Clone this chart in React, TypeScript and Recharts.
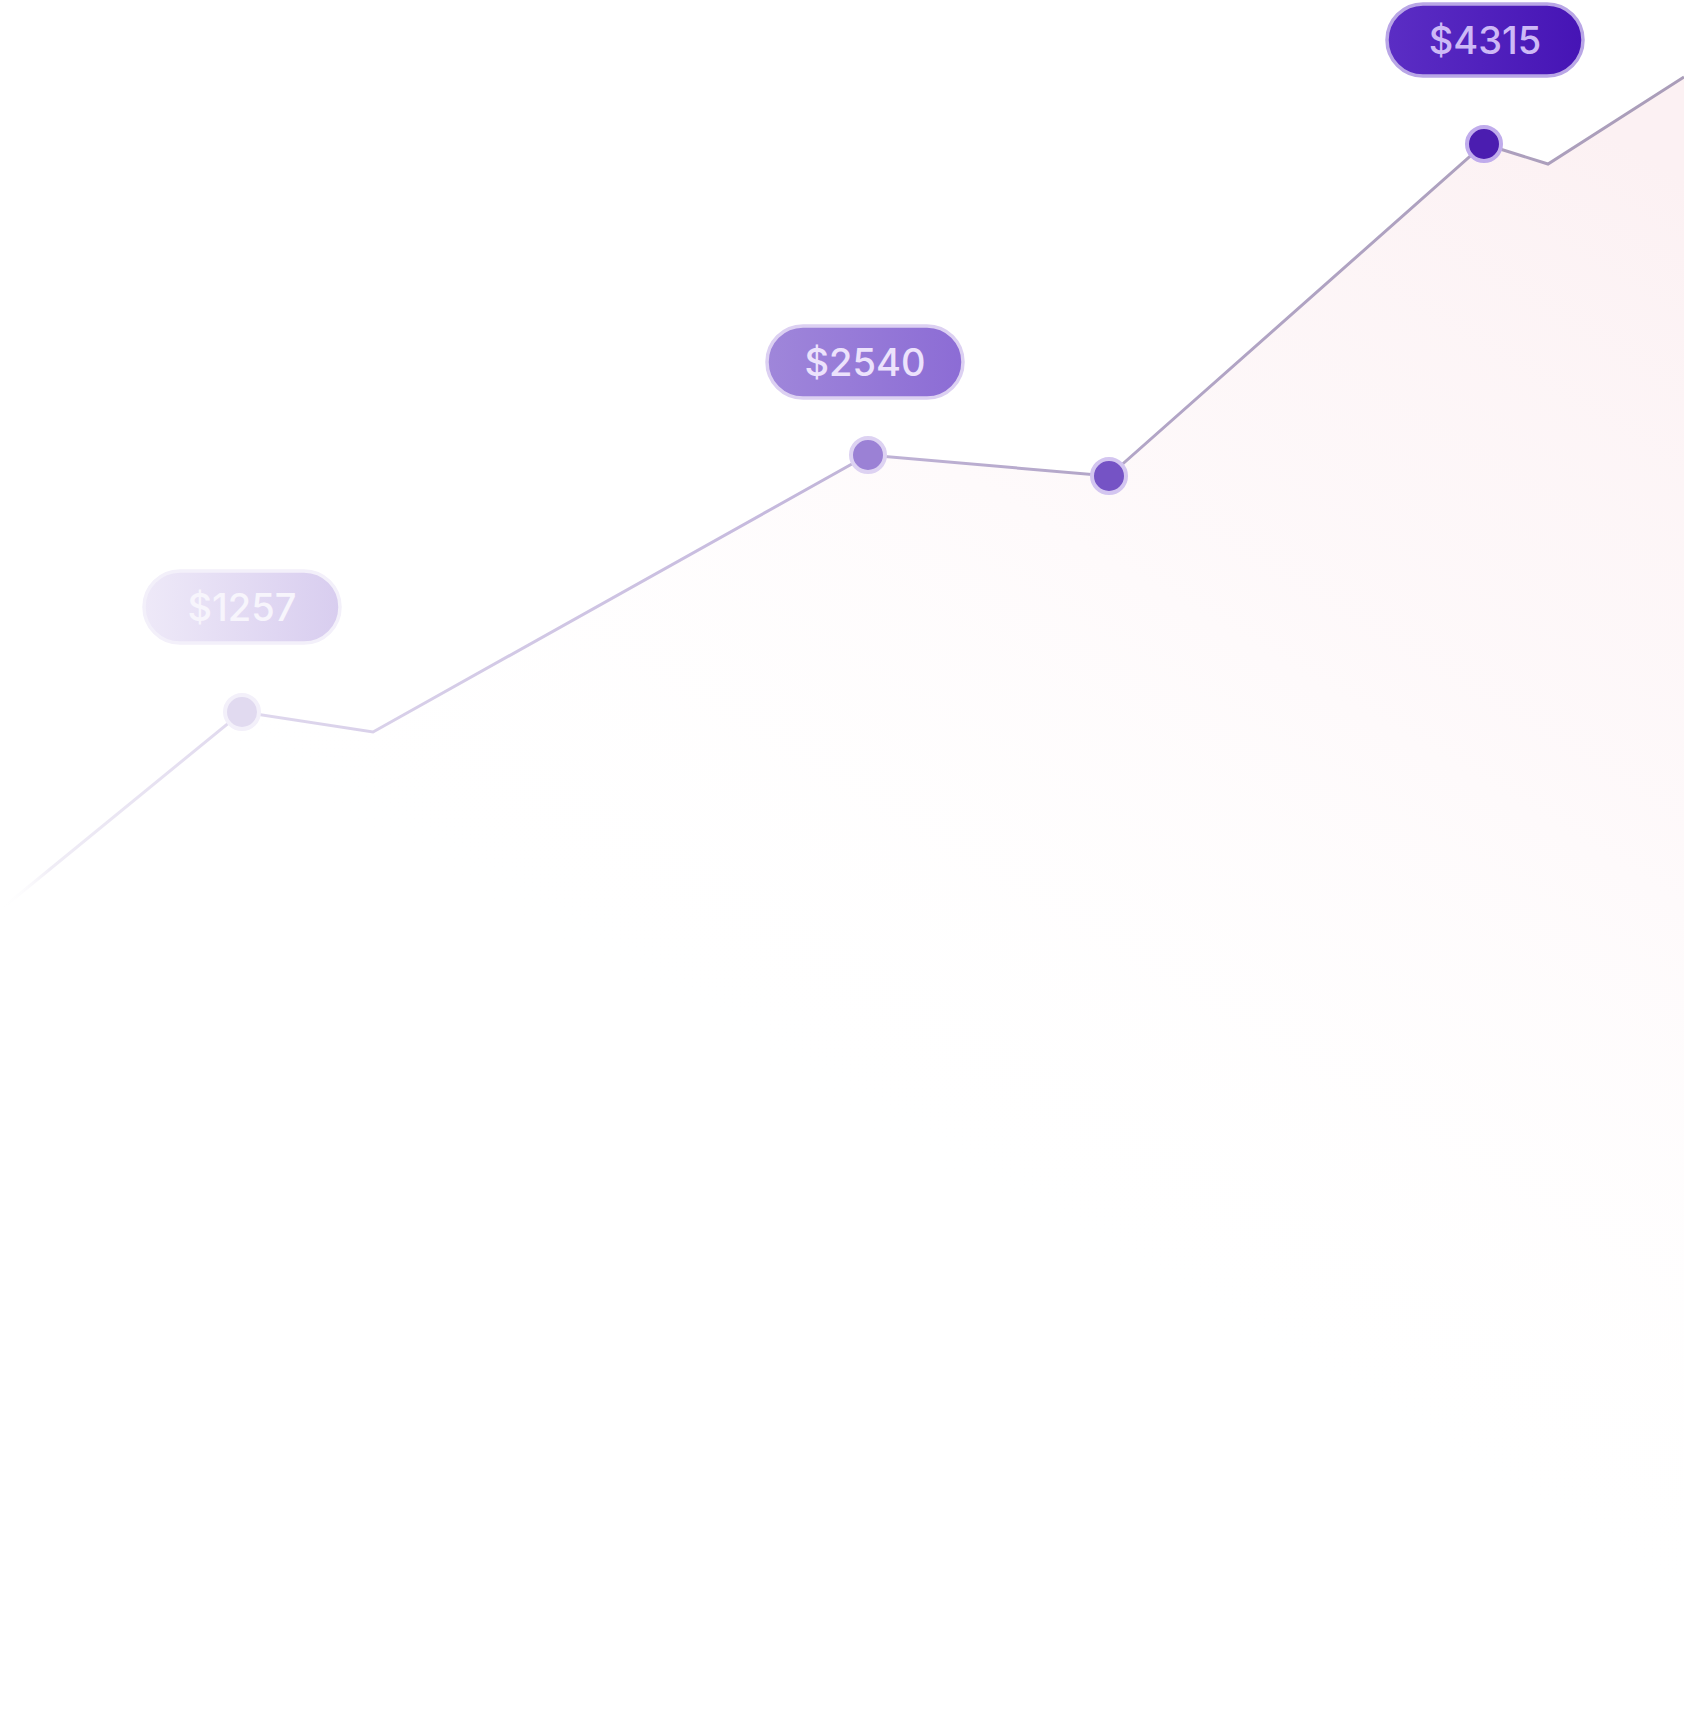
import React from 'react'
import { AreaChart, Area, XAxis, YAxis, LabelList } from 'recharts'

// horizontal position of each vertex and its height above the bottom edge
const positions = [0, 242, 373, 868, 1109, 1484, 1548, 1684]
const heights = [805, 1003, 983, 1260, 1239, 1571, 1551, 1638]
// price tags shown above some of the vertices
const tags = [null, '$1257', null, '$2540', null, '$4315', null, null]
// vertices that carry a dot
const marked = [false, true, false, true, true, true, false, false]

const W = 1684
const H = 1715

const rows = positions.map((x, i) => ({ x, value: heights[i], tag: tags[i], marked: marked[i] }))

// dot colours, from faded to strong
const dotStyle: Record<number, { fill: string; stroke: string }> = {
  1: { fill: '#e1daf0', stroke: '#f3f0fa' },
  3: { fill: '#9b81d5', stroke: '#ddd2f2' },
  4: { fill: '#7553c5', stroke: '#d3c5f0' },
  5: { fill: '#4b1db0', stroke: '#c0acec' },
}

const tagStyle: Record<string, { id: string; from: string; to: string; border: string; text: string; lift: number; dx: number }> = {
  '$1257': { id: 'tag1', from: '#eee9f8', to: '#d8cdef', border: '#f3f0fa', text: '#f7f5fc', lift: 105, dx: 0 },
  '$2540': { id: 'tag2', from: '#9f86da', to: '#8c6cd5', border: '#dcd0f2', text: '#ece2fc', lift: 93, dx: -3 },
  '$4315': { id: 'tag3', from: '#5b2dc4', to: '#4614b5', border: '#b9a6e6', text: '#cdb9f6', lift: 104, dx: 1 },
}

function Marker(props: any) {
  const { cx, cy, index } = props
  const s = dotStyle[index]
  if (!s) return <g key={index} />
  return <circle key={index} cx={cx} cy={cy} r={17} fill={s.fill} stroke={s.stroke} strokeWidth={4} />
}

function PriceTag(props: any) {
  const { x, y, value } = props
  if (!value) return null
  const s = tagStyle[value]
  const w = 196
  const h = 72
  const cx = x + s.dx
  const cy = y - s.lift
  return (
    <g>
      <rect
        x={cx - w / 2}
        y={cy - h / 2}
        width={w}
        height={h}
        rx={h / 2}
        fill={`url(#${s.id})`}
        stroke={s.border}
        strokeWidth={3.5}
      />
      <text
        x={cx}
        y={cy}
        textAnchor="middle"
        dominantBaseline="central"
        fontFamily="Inter, 'Noto Sans', sans-serif"
        fontSize={38}
        fontWeight={500}
        fill={s.text}
      >
        {value}
      </text>
    </g>
  )
}

export default function App() {
  return (
    <div style={{ position: 'absolute', left: 0, top: 0, width: W, height: H, background: '#ffffff' }}>
      <AreaChart width={W} height={H} data={rows} margin={{ top: 0, right: 0, bottom: 0, left: 0 }}>
        <defs>
          <linearGradient id="lineFade" gradientUnits="userSpaceOnUse" x1={0} y1={0} x2={W} y2={0}>
            <stop offset="0" stopColor="#ffffff" stopOpacity={0} />
            <stop offset="0.03" stopColor="#f0edf6" />
            <stop offset="0.14" stopColor="#e0d9ee" />
            <stop offset="0.45" stopColor="#c6bade" />
            <stop offset="0.65" stopColor="#b3a6c8" />
            <stop offset="1" stopColor="#aa9db9" />
          </linearGradient>
          <linearGradient id="areaFade" x1="0.9" y1="0" x2="0.5" y2="0.65">
            <stop offset="0" stopColor="#fcf1f3" stopOpacity={1} />
            <stop offset="0.45" stopColor="#fdf5f7" stopOpacity={0.6} />
            <stop offset="1" stopColor="#ffffff" stopOpacity={0} />
          </linearGradient>
          {Object.values(tagStyle).map((s) => (
            <linearGradient key={s.id} id={s.id} x1="0" y1="0" x2="1" y2="0">
              <stop offset="0" stopColor={s.from} />
              <stop offset="1" stopColor={s.to} />
            </linearGradient>
          ))}
        </defs>
        <XAxis type="number" dataKey="x" domain={[0, W]} hide />
        <YAxis type="number" domain={[0, H]} hide />
        <Area
          type="linear"
          dataKey="value"
          stroke="url(#lineFade)"
          strokeWidth={3}
          fill="url(#areaFade)"
          fillOpacity={1}
          dot={Marker}
          activeDot={false}
          isAnimationActive={false}
        >
          <LabelList dataKey="tag" content={PriceTag} />
        </Area>
      </AreaChart>
    </div>
  )
}
